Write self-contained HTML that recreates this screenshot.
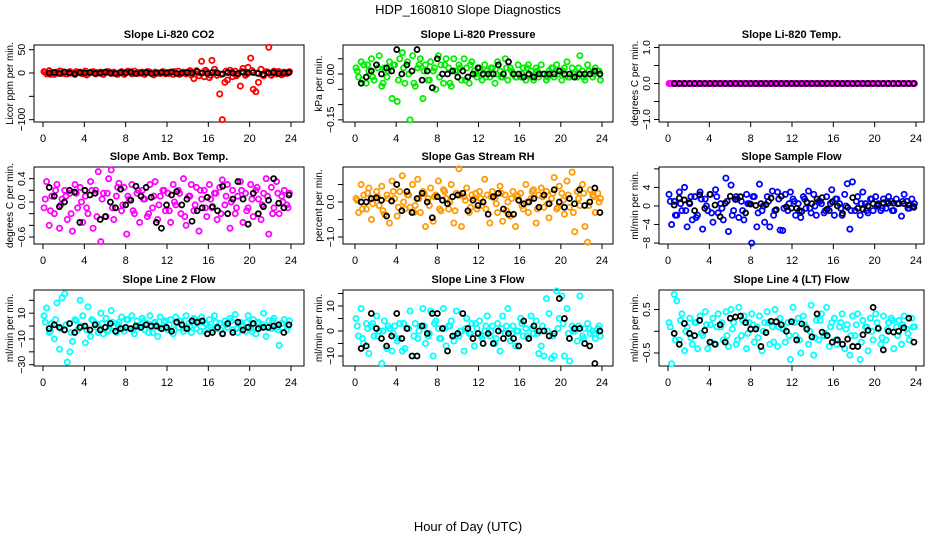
<!DOCTYPE html>
<html><head><meta charset="utf-8"><style>
html,body{margin:0;padding:0;background:#fff}
svg{display:block;font-family:"Liberation Sans",Arial,sans-serif}
</style></head><body>
<svg id="chart" width="936" height="540" viewBox="0 0 936 540" xmlns="http://www.w3.org/2000/svg">
<text x="468" y="14" font-size="13" text-anchor="middle">HDP_160810  Slope Diagnostics</text>
<text x="468" y="531" font-size="13" text-anchor="middle">Hour of Day (UTC)</text>
</svg>
<script>
const xTicks=[0,4,8,12,16,20,24];
const co2Color=[3,-2,5,1,-3,2,4,-1,2,-2,3,0,-3,1,2,-1,4,-2,1,3,-2,0,2,-3,1,3,-1,2,-2,0,3,-3,1,2,-2,4,-1,0,2,-3,3,1,-2,2,0,-1,3,-2,1,2,-3,0,4,-1,2,-2,2,-4,-12,5,-6,25,-8,3,-10,27,8,-5,-45,-100,-20,-15,6,-8,4,-3,-28,10,-5,12,32,-35,-40,-20,8,-6,3,55,-5,4,-2,3,-4,2,-1,3];
const co2Band=[2,-3,1,4,-2,0,3,-1,-4,2,1,-2,3,0,-3,2,4,-1,1,-2,3,-4,0,2,-1,3,-3,1,5,-2,0,6,-5,2,-3,4,1,-6,3,-2,5,0,-4,2,-1,3,-2,1];
const co2Black=[0,1,-1,2,0,-2,1,0,1,-1,0,2,0,-1,1,0,2,-1,0,1,-1,0,1,0,2,-1,0,1,0,3,0,-1,1,0,-2,1,0,-1,2,0,1,-1,-3,0,1,-1,0,1];
const presColor=[0.02,-0.01,0.04,0.03,-0.03,0.01,0.05,-0.02,0.03,0.06,-0.04,0.02,-0.01,0.04,-0.08,0.03,-0.09,0.05,0.07,-0.03,0.04,-0.15,0.06,-0.04,0.02,0.05,-0.08,0.03,-0.02,0.04,0.01,-0.05,0.06,0.03,-0.03,0.05,0.02,-0.04,0.05,0.01,0.03,-0.02,0.05,0.02,-0.03,0.04,0.01,-0.01,0.02,-0.02,0.03,0.01,-0.01,0.02,-0.03,0.04,0.01,-0.01,0.05,-0.02,0.02,0.00,-0.01,0.03,-0.01,0.02,-0.02,0.03,0.01,-0.02,0.02,-0.01,0.03,0.00,-0.02,0.01,0.02,-0.01,0.03,0.01,-0.02,0.02,0.04,-0.01,0.02,0.00,-0.01,0.06,0.01,-0.02,0.03,0.00,-0.01,0.02,0.01,-0.02];
const presBand=[0.01,-0.02,0.03,-0.01,0.02,-0.03,0.01,0.03,-0.02,0.02,0.00,-0.03,0.03,0.01,-0.02,0.02,-0.01,0.03,-0.03,0.01,0.02,-0.02,0.03,0.00,0.01,-0.01,0.02,0.00,-0.01,0.02,0.01,-0.01,0.00,0.02,-0.01,0.01,0.00,-0.01,0.02,0.00,0.01,-0.01,0.00,0.02,-0.01,0.01,0.00,0.01];
const presBlack=[-0.03,-0.01,0.01,0.03,0.00,0.02,0.01,0.08,0.00,0.03,0.01,0.08,-0.02,0.01,-0.045,0.05,0.00,0.00,0.01,-0.01,0.01,-0.01,0.00,0.02,0.00,0.00,0.00,0.03,0.00,0.04,0.00,0.00,-0.01,0.00,-0.01,0.00,0.00,0.00,0.00,0.01,0.00,0.00,-0.01,0.00,0.00,0.00,0.01,0.00];
const tempColor=[0,0,0,0,0,0,0,0,0,0,0,0,0,0,0,0,0,0,0,0,0,0,0,0,0,0,0,0,0,0,0,0,0,0,0,0,0,0,0,0,0,0,0,0,0,0,0,0,0,0,0,0,0,0,0,0,0,0,0,0,0,0,0,0,0,0,0,0,0,0,0,0,0,0,0,0,0,0,0,0,0,0,0,0,0,0,0,0,0,0,0,0,0,0,0,0];
const tempBand=[0,0,0,0,0,0,0,0,0,0,0,0,0,0,0,0,0,0,0,0,0,0,0,0,0,0,0,0,0,0,0,0,0,0,0,0,0,0,0,0,0,0,0,0,0,0,0,0];
const tempBlack=[0,0,0,0,0,0,0,0,0,0,0,0,0,0,0,0,0,0,0,0,0,0,0,0,0,0,0,0,0,0,0,0,0,0,0,0,0,0,0,0,0,0,0,0,0,0,0,0];
const ambColor=[-0.1,0.35,-0.4,0.1,-0.2,0.3,-0.45,0.05,0.2,-0.3,0.15,-0.5,0.3,-0.1,0.25,-0.35,0.1,-0.2,0.35,-0.45,0.2,0.52,-0.68,0.15,-0.25,0.4,0.55,-0.3,0.1,0.32,-0.15,0.25,-0.55,0.05,0.3,-0.2,0.15,-0.35,0.2,0.05,-0.25,0.3,-0.1,0.35,-0.3,0.1,0.2,-0.15,0.15,-0.35,0.3,-0.05,0.2,-0.2,0.4,-0.4,0.1,0.3,-0.15,0.25,-0.5,0.05,0.2,-0.25,0.3,-0.1,0.15,-0.3,0.25,0.38,-0.05,0.3,-0.45,0.2,-0.2,0.1,0.35,-0.35,0.15,-0.1,0.3,-0.25,0.2,0.05,-0.3,0.15,0.4,-0.55,0.25,-0.1,0.35,-0.2,0.1,0.2,-0.05,0.15];
const ambBand=[0.05,-0.15,0.2,-0.05,0.1,-0.2,0.15,0.0,-0.1,0.2,-0.25,0.05,0.15,-0.1,0.25,-0.05,0.1,-0.15,0.2,0.05,-0.2,0.1,-0.05,0.2,-0.15,0.0,0.15,-0.25,0.1,-0.05,0.2,-0.1,0.05,0.15,-0.2,0.1,0.0,-0.1,0.2,-0.15,0.05,0.25,-0.05,0.1,-0.2,0.15,0.0,-0.1];
const ambBlack=[0.25,0.1,-0.08,0.0,0.2,0.17,-0.35,0.2,0.12,0.15,-0.3,-0.25,0.0,-0.1,0.22,-0.05,0.03,0.27,0.1,0.25,0.08,-0.35,-0.45,-0.05,0.12,0.18,-0.05,0.05,-0.33,-0.15,-0.1,0.08,-0.08,-0.15,0.27,-0.2,0.05,0.35,0.05,-0.38,0.15,-0.2,-0.08,0.03,0.4,-0.02,-0.1,0.12];
const rhColor=[0.1,-0.3,0.5,0.2,-0.2,0.4,-0.5,0.1,0.3,-0.1,0.45,-0.35,0.2,-0.6,0.6,0.1,-0.4,0.3,0.75,-0.2,0.2,-0.15,0.5,-0.1,0.65,-0.3,0.3,-0.7,0.1,0.4,-0.55,0.2,0.6,-0.25,0.35,0.1,-0.2,0.5,-0.6,0.25,0.95,-0.7,0.15,0.4,-0.3,0.2,0.1,-0.2,0.3,-0.1,0.65,0.2,-0.6,0.3,0.1,-0.3,0.45,-0.55,0.2,0.0,-0.4,0.3,-0.7,0.15,0.25,-0.2,0.5,-0.3,0.1,0.35,-0.6,0.2,0.4,-0.15,0.3,-0.45,0.1,0.7,-0.2,0.45,0.25,-0.35,0.6,-0.15,0.85,-0.85,0.3,-0.1,0.5,-0.7,-1.15,0.35,0.2,-0.3,0.25,0.1];
const rhBand=[0.05,-0.2,0.25,-0.05,0.15,-0.25,0.1,0.3,-0.15,0.0,0.2,-0.3,0.1,0.25,-0.1,0.15,-0.2,0.3,0.0,-0.25,0.2,0.05,-0.15,0.25,0.1,-0.2,0.15,-0.05,0.25,-0.25,0.1,0.2,-0.1,0.0,0.3,-0.2,0.15,-0.05,0.25,-0.15,0.05,0.2,-0.3,0.1,0.25,-0.1,0.15,0.0];
const rhBlack=[0.0,0.0,0.1,0.12,0.05,-0.4,0.03,0.5,-0.25,0.3,-0.3,0.1,0.25,0.0,-0.45,0.15,0.05,-0.05,0.15,0.2,0.25,-0.25,0.05,-0.1,0.0,-0.35,0.15,0.25,-0.2,-0.35,-0.35,0.05,-0.05,0.0,0.1,-0.15,0.2,-0.05,0.35,0.0,-0.15,0.1,-0.05,0.35,-0.1,0.0,0.4,-0.3];
const flowColor=[2.5,-4,1,-2,3,-1,4,-4.5,0.5,-3,2,-2,3,-5,1.5,-1,2.5,-3.5,3.5,-1.5,0.5,-3,6,-5.5,4.5,-1,2,-2.5,1,-3,2.5,0.5,-8,2,-4.5,4.7,-1,-3.5,2,-4.5,3.2,-1,3,-5.2,-5.3,2.5,-1,3,1.5,-2,0.5,-2.5,2,-0.5,3.2,-1.5,2.5,-2,1,0.5,-1.5,2,-1,3.5,-2,1.5,0.5,-2,2.5,4.8,-5,5.2,-1,2,-2,3,0.5,-1.5,1.5,-1,2,0.5,-1,1.5,-0.5,2,1,-1,1.5,0.5,-2.2,2.5,1,-0.5,1.5,0.5];
const flowBand=[1,-2,0.5,-1,2,-2.5,1.5,0,-1.5,2,-0.5,1,-2,1.5,-1,0.5,2,-1.5,0,1,-2,1.5,-0.5,0.5,1,-1,1.5,-0.5,0,1,-1,0.5,1.5,-0.5,0,-1,1,0.5,-1,1.5,0,-0.5,1,-1,0.5,1,-0.5,0];
const flowBlack=[0.2,1.7,1.3,0.7,-1,2.4,-0.5,2.5,0.2,-2.3,0.6,2.1,1.4,2.0,-1.5,0.4,0.1,0.5,0.3,1.7,-0.8,2.1,-0.2,-0.5,-0.5,-1.2,0.8,0.5,1.5,1.8,-0.7,0.9,0,-1.6,-0.3,1.8,-0.5,-0.7,0,0.5,0.2,0.7,0.6,0.6,0.5,0.5,0.2,-0.3];
const l2Color=[8,14,-5,2,-10,18,-18,22,25,-28,-20,-12,5,-3,20,8,-13,15,-8,4,2,-5,10,-6,6,-3,12,0,-5,3,7,-4,5,-2,8,-6,4,-1,6,-3,2,8,-5,3,-8,7,-2,4,-3,5,-6,7,-1,4,-4,8,2,-5,6,-2,3,7,-4,1,5,-3,8,-2,2,-6,4,-1,6,-3,9,-5,3,0,-4,8,-2,5,-6,3,-1,10,-8,4,-2,6,-1,-15,2,5,-3,4];
const l2Band=[3,-4,5,-2,1,-5,4,0,-3,5,-1,2,-4,3,1,-2,5,-3,0,4,-5,2,-1,3,1,-3,4,-2,0,5,-4,2,-1,3,-3,1,4,-2,0,3,-4,2,1,-1,4,-3,2,0];
const l2Black=[-2,1,-1,-3,2,-5,-1,0,-3,1,-3,-1,2,-4,-2,-1,-2,0,-1,1,0,0,-2,-1,-4,3,1,-2,4,3,4,-6,-5,-1,-6,2,-5,3,-3,-1,2,-2,-1,-1,0,1,-5,1];
const l3Color=[5,-2,9,-5,3,-9,2,-2,6,0,-13,4,-7,1,-8,2,-4,3,-8,-7,1,8,-10,3,-3,2,9,-5,-2,8,-10,4,1,-3,9,-6,2,4,-4,8,-2,0,-8,5,-1,3,-6,1,4,-3,0,6,-2,2,-5,3,-8,6,-1,9,-4,2,-6,0,5,-2,1,-3,6,-1,4,-9,-6,-10,13,7,-11,-10,16,5,14,-10,9,-12,2,0,-4,14,-2,1,3,-1,0,-3,1,-2];
const l3Band=[2,-3,1,3,-2,0,2,-1,-3,3,1,-2,0,2,-1,3,-3,1,2,-2,0,1,-1,3,-2,2,0,-3,1,2,-1,0,3,-2,1,-1,2,0,-2,1,3,-1,0,2,-3,1,-1,2];
const l3Black=[-7,-6,7,1,-3,-6,-2,7,-3,1,-10,-10,2,-1,7,7,1,-8,-2,-1,7,1,-3,-1,-5,-1,-5,0,-3,-1,-3,-6,4,-3,2,0,0,-2,-1,13,5,-3,1,1,-5,-6,-13,0];
const l4Color=[0.2,-0.75,0.85,0.7,-0.2,0.4,-0.45,0.1,0.3,-0.3,0.2,-0.4,0.35,-0.1,0.45,-0.4,0.15,0.3,-0.3,0.4,0.1,-0.2,0.45,-0.35,0.5,0.2,-0.3,0.55,-0.1,0.35,-0.4,0.2,0.4,-0.25,0.1,0.35,-0.45,0.2,0.45,-0.3,0.1,0.5,-0.35,0.3,0.05,-0.25,0.2,-0.65,0.55,-0.1,0.3,-0.5,0.35,0.1,-0.3,0.6,-0.55,0.25,-0.2,0.4,-0.1,0.55,-0.35,0.2,0.3,-0.3,0.1,0.4,-0.4,0.15,-0.55,0.35,-0.1,0.4,-0.65,0.25,0.1,-0.45,0.3,-0.2,0.4,0.05,-0.3,0.35,-0.2,0.2,0.3,-0.4,0.1,0.25,-0.3,0.35,0.05,-0.2,0.3,0.1];
const l4Band=[0.1,-0.2,0.25,0.0,-0.15,0.2,-0.05,0.15,-0.25,0.1,0.2,-0.1,0.05,-0.2,0.25,-0.05,0.15,-0.15,0.0,0.2,-0.25,0.1,0.05,-0.1,0.2,-0.2,0.15,0.0,-0.15,0.25,-0.05,0.1,-0.2,0.2,0.05,-0.1,0.15,-0.25,0.1,0.0,0.2,-0.15,0.05,0.25,-0.1,0.15,-0.05,0.1];
const l4Black=[-0.05,-0.3,0.18,-0.05,-0.1,0.25,0.02,-0.25,-0.3,0.15,-0.25,0.3,0.33,0.35,0.2,0.05,0.05,-0.35,-0.03,0.23,0.22,0.15,0,0.22,-0.2,0.17,0.05,-0.13,0.4,-0.02,-0.1,-0.25,-0.2,-0.3,-0.18,-0.35,-0.35,-0.08,0.02,0.55,0.07,-0.43,0,-0.02,0,0.08,0.3,-0.25];

const svg=document.getElementById('chart');
const NS='http://www.w3.org/2000/svg';
function mk(tag,attrs){const e=document.createElementNS(NS,tag);for(const k in attrs)e.setAttribute(k,attrs[k]);svg.appendChild(e);return e;}
const cols=[{l:34,r:304,x0:43,x24:291},{l:343,r:613,x0:355,x24:602},{l:659,r:924,x0:668,x24:916}];
const rows=[{t:45,b:122},{t:167,b:244},{t:290,b:366}];
const panels=[
 {key:'co2',title:'Slope Li-820 CO2',yl:'Licor ppm per min.',c:0,r:0,ymin:-105,ymax:60,ticks:[50,0,-50,-100],labs:['50','0','','\u2212100'],col:'#ff0000',cd:co2Color,nd:co2Band,bd:co2Black},
 {key:'pressure',title:'Slope Li-820 Pressure',yl:'kPa per min.',c:1,r:0,ymin:-0.157,ymax:0.095,ticks:[0.05,0,-0.05,-0.1,-0.15],labs:['','0.00','','','\u22120.15'],col:'#00ee00',cd:presColor,nd:presBand,bd:presBlack},
 {key:'temp',title:'Slope Li-820 Temp.',yl:'degrees C per min.',c:2,r:0,ymin:-1.07,ymax:1.07,ticks:[1,0.5,0,-0.5,-1],labs:['1.0','','0.0','','\u22121.0'],col:'#ff00ff',cd:tempColor,nd:tempBand,bd:tempBlack},
 {key:'amb',title:'Slope Amb. Box Temp.',yl:'degrees C per min.',c:0,r:1,ymin:-0.72,ymax:0.6,ticks:[0.4,0.2,0,-0.2,-0.4,-0.6],labs:['0.4','','0.0','','','\u22120.6'],col:'#ff00ff',cd:ambColor,nd:ambBand,bd:ambBlack},
 {key:'rh',title:'Slope Gas Stream RH',yl:'percent per min.',c:1,r:1,ymin:-1.2,ymax:1.0,ticks:[0.5,0,-0.5,-1],labs:['','0.0','','\u22121.0'],col:'#ff9900',cd:rhColor,nd:rhBand,bd:rhBlack},
 {key:'sample',title:'Slope Sample Flow',yl:'ml/min per min.',c:2,r:1,ymin:-8.2,ymax:8.4,ticks:[8,4,0,-4,-8],labs:['','4','0','\u22124','\u22128'],col:'#0000ff',cd:flowColor,nd:flowBand,bd:flowBlack},
 {key:'line2',title:'Slope Line 2 Flow',yl:'ml/min per min.',c:0,r:2,ymin:-31,ymax:28,ticks:[20,10,0,-10,-20,-30],labs:['','10','','\u221210','','\u221230'],col:'#00ffff',cd:l2Color,nd:l2Band,bd:l2Black},
 {key:'line3',title:'Slope Line 3 Flow',yl:'ml/min per min.',c:1,r:2,ymin:-14,ymax:16.4,ticks:[15,10,5,0,-5,-10],labs:['','10','','0','','\u221210'],col:'#00ffff',cd:l3Color,nd:l3Band,bd:l3Black},
 {key:'line4',title:'Slope Line 4 (LT) Flow',yl:'ml/min per min.',c:2,r:2,ymin:-0.8,ymax:0.95,ticks:[0.5,0,-0.5],labs:['0.5','','\u22120.5'],col:'#00ffff',cd:l4Color,nd:l4Band,bd:l4Black}
];
panels.forEach(p=>{
 const C=cols[p.c],R=rows[p.r];
 const xs=h=>C.x0+(C.x24-C.x0)*h/24;
 const ys=v=>R.b-(v-p.ymin)/(p.ymax-p.ymin)*(R.b-R.t);
 const box=mk('rect',{x:C.l,y:R.t,width:C.r-C.l,height:R.b-R.t,fill:'none',stroke:'#000','stroke-width':1});
 
 
 const tt=mk('text',{x:(C.l+C.r)/2,y:R.t-7,'font-size':11,'font-weight':'bold','text-anchor':'middle'});
 tt.textContent=p.title;
 
 
 const yt=mk('text',{x:0,y:0,'font-size':10,'text-anchor':'middle',transform:`translate(${C.l-21},${(R.t+R.b)/2}) rotate(-90)`});
 yt.textContent=p.yl;
 
 
 xTicks.forEach(h=>{
  const x=xs(h);
  const tl=mk('line',{x1:x,x2:x,y1:R.b,y2:R.b+5,stroke:'#000'});
  
  
  const lb=mk('text',{x:x,y:R.b+20,'font-size':11,'text-anchor':'middle'});
  lb.textContent=h;
  
  
 });
 p.ticks.forEach((v,i)=>{
  const y=ys(v);
  const tl=mk('line',{x1:C.l-5,x2:C.l,y1:y,y2:y,stroke:'#000'});
  
  
  if(p.labs[i]){
   const lb=mk('text',{x:0,y:0,'font-size':10.5,'text-anchor':'middle',transform:`translate(${C.l-9},${y}) rotate(-90)`});
   lb.textContent=p.labs[i];
   
   
  }
 });
 p.nd.forEach((v,i)=>{
  const h=i*24/p.nd.length+0.22;
  const pt=mk('circle',{cx:xs(h),cy:ys(v),r:2.6,fill:'none',stroke:p.col,'stroke-width':1.8});
  
  
 });
 p.cd.forEach((v,i)=>{
  const h=i*24/p.cd.length+0.1;
  const pt=mk('circle',{cx:xs(h),cy:ys(v),r:2.6,fill:'none',stroke:p.col,'stroke-width':1.8});
  
  
 });
 p.bd.forEach((v,i)=>{
  const h=0.6+i*23.2/(p.bd.length-1);
  const pt=mk('circle',{cx:xs(h),cy:ys(v),r:2.5,fill:'none',stroke:'#000','stroke-width':1.8});
  
  
 });
});
</script>
</body></html>
